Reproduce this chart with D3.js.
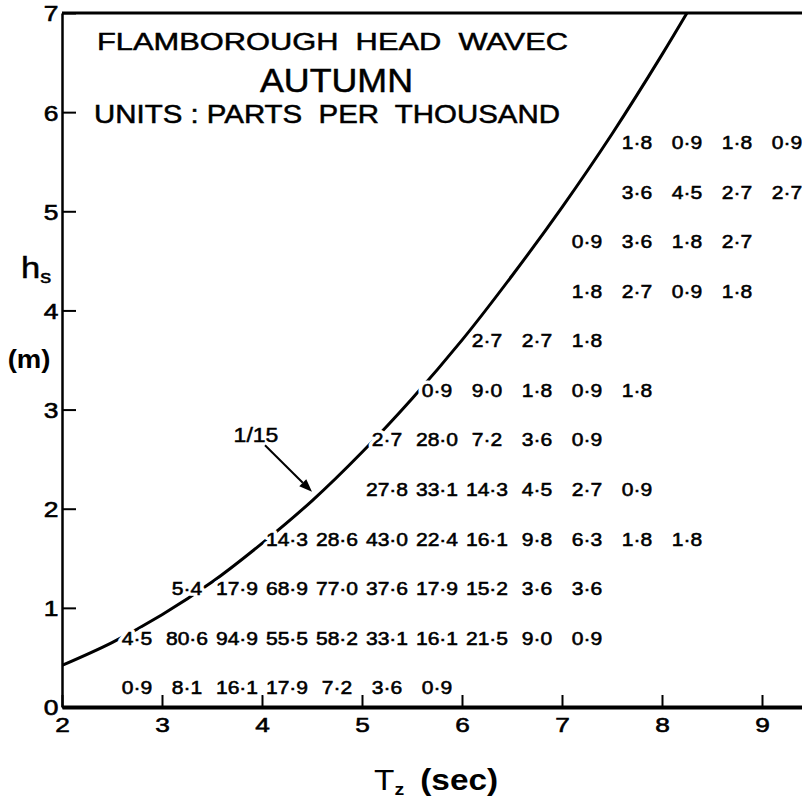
<!DOCTYPE html>
<html>
<head>
<meta charset="utf-8">
<script src="https://cdn.jsdelivr.net/npm/d3@7"></script>
<style>
  body { margin: 0; background: #fff; }
  svg text { font-family: 'Liberation Sans', Arial, sans-serif; fill: #000; }
</style>
</head>
<body>
<div id="chart"></div>
<script>
// wave height bins (m) and the Tz bin (s) of the first value in each row
const hsBins = [0.25, 0.75, 1.25, 1.75, 2.25, 2.75, 3.25, 3.75, 4.25, 4.75, 5.25, 5.75];
const rowFirstTz = [2.75, 2.75, 3.25, 4.25, 5.25, 5.25, 5.75, 6.25, 7.25, 7.25, 7.75, 7.75];
const tzStep = 0.5;
// occurrence, parts per thousand
const rowValues = [
  [0.9, 8.1, 16.1, 17.9, 7.2, 3.6, 0.9],
  [4.5, 80.6, 94.9, 55.5, 58.2, 33.1, 16.1, 21.5, 9.0, 0.9],
  [5.4, 17.9, 68.9, 77.0, 37.6, 17.9, 15.2, 3.6, 3.6],
  [14.3, 28.6, 43.0, 22.4, 16.1, 9.8, 6.3, 1.8, 1.8],
  [27.8, 33.1, 14.3, 4.5, 2.7, 0.9],
  [2.7, 28.0, 7.2, 3.6, 0.9],
  [0.9, 9.0, 1.8, 0.9, 1.8],
  [2.7, 2.7, 1.8],
  [1.8, 2.7, 0.9, 1.8],
  [0.9, 3.6, 1.8, 2.7],
  [3.6, 4.5, 2.7, 2.7],
  [1.8, 0.9, 1.8, 0.9],
];
// steepness 1/15 line
const curveTz = [2, 2.5, 3, 3.5, 4, 4.5, 5, 5.5, 6, 6.5, 7, 7.5, 8, 8.5];
const curveHs = [0.42, 0.65, 0.93, 1.26, 1.65, 2.08, 2.57, 3.11, 3.7, 4.35, 5.04, 5.78, 6.58, 7.43];
const xTicks = [2, 3, 4, 5, 6, 7, 8, 9];
const yTicks = [0, 1, 2, 3, 4, 5, 6, 7];

const width = 802, height = 800;
const x = d3.scaleLinear().domain([2, 9.4]).range([62, 802]);
const y = d3.scaleLinear().domain([0, 7]).range([707, 13]);
const fmt = (v) => v.toFixed(1).replace('.', '\u00b7');

const svg = d3.select('#chart').append('svg')
  .attr('width', width).attr('height', height);

svg.append('defs').append('clipPath').attr('id', 'plot')
  .append('rect').attr('x', x(2)).attr('y', y(7))
  .attr('width', width - x(2)).attr('height', y(0) - y(7));

// 1/15 curve
svg.append('path')
  .datum(curveTz.map((t, i) => [t, curveHs[i]]))
  .attr('clip-path', 'url(#plot)')
  .attr('fill', 'none').attr('stroke', '#000').attr('stroke-width', 3)
  .attr('d', d3.line().x((d) => x(d[0])).y((d) => y(d[1])).curve(d3.curveCatmullRom));

// axes
const xAxis = svg.append('g')
  .attr('transform', 'translate(0,' + y(0) + ')')
  .call(d3.axisBottom(x).tickValues(xTicks).tickSizeInner(-12).tickSizeOuter(0).tickFormat(d3.format('d')));
xAxis.select('.domain').attr('stroke-width', 4);
xAxis.selectAll('line').attr('stroke-width', 2);
xAxis.selectAll('text')
  .attr('y', 25).attr('dy', 0)
  .attr('transform', 'scale(1.25,1)')
  .attr('stroke', '#000').attr('stroke-width', 0.6)
  .style('font-size', '21px');

const yAxis = svg.append('g')
  .attr('transform', 'translate(' + x(2) + ',0)')
  .call(d3.axisLeft(y).tickValues(yTicks).tickSizeInner(-14).tickSizeOuter(0).tickFormat(d3.format('d')));
yAxis.select('.domain').attr('stroke-width', 2.5);
yAxis.selectAll('line').attr('stroke-width', 2);
yAxis.selectAll('text')
  .attr('x', -3).attr('dy', '0.36em')
  .attr('transform', 'scale(1.2,1)')
  .attr('stroke', '#000').attr('stroke-width', 0.6)
  .style('font-size', '22px');

// top frame line
svg.append('line')
  .attr('x1', x(2)).attr('x2', width).attr('y1', y(7)).attr('y2', y(7))
  .attr('stroke', '#000').attr('stroke-width', 3);

// table values
const cells = rowValues.flatMap((row, r) =>
  row.map((v, c) => ({ tz: rowFirstTz[r] + c * tzStep, hs: hsBins[r], v })));

const cellText = (g) => g.selectAll('text').data(cells).enter().append('text')
  .attr('transform', (d) => 'translate(' + x(d.tz) + ',' + (y(d.hs) + 12) + ') scale(1.17,1)')
  .attr('text-anchor', 'middle')
  .style('font-size', '18px')
  .text((d) => fmt(d.v));

svg.append('g').call(cellText)
  .selectAll('text').attr('stroke', '#fff').attr('stroke-width', 7).attr('stroke-linejoin', 'round');
svg.append('g').call(cellText)
  .selectAll('text').attr('stroke', '#000').attr('stroke-width', 0.55);

// titles
const titles = [
  { text: 'FLAMBOROUGH  HEAD  WAVEC', x0: 97, x1: 568, base: 50, size: 24 },
  { text: 'AUTUMN', x0: 260, x1: 413, base: 92, size: 33 },
  { text: 'UNITS : PARTS  PER  THOUSAND', x0: 94, x1: 560, base: 123, size: 25 },
];
svg.selectAll('.title').data(titles).enter().append('text')
  .attr('class', 'title')
  .attr('x', (d) => d.x0).attr('y', (d) => d.base)
  .attr('textLength', (d) => d.x1 - d.x0)
  .attr('lengthAdjust', 'spacingAndGlyphs')
  .attr('stroke', '#000').attr('stroke-width', 0.5)
  .style('white-space', 'pre')
  .style('font-size', (d) => d.size + 'px')
  .text((d) => d.text);

// 1/15 annotation with arrow
svg.append('text')
  .attr('transform', 'translate(' + x(3.94) + ',' + y(2.67) + ') scale(1.15,1)')
  .attr('text-anchor', 'middle')
  .style('font-size', '20px')
  .attr('stroke', '#000').attr('stroke-width', 0.5)
  .text('1/15');

const a0 = [x(4.03), y(2.64)], a1 = [x(4.5), y(2.17)];
const ang = Math.atan2(a1[1] - a0[1], a1[0] - a0[0]);
const headLen = 13, headW = 5;
const back = [a1[0] - headLen * Math.cos(ang), a1[1] - headLen * Math.sin(ang)];
svg.append('line')
  .attr('x1', a0[0]).attr('y1', a0[1]).attr('x2', back[0]).attr('y2', back[1])
  .attr('stroke', '#000').attr('stroke-width', 2);
svg.append('path')
  .attr('d', d3.line()([
    a1,
    [back[0] + headW * Math.sin(ang), back[1] - headW * Math.cos(ang)],
    [back[0] - headW * Math.sin(ang), back[1] + headW * Math.cos(ang)],
  ]) + 'Z')
  .attr('fill', '#000');

// axis titles
const hLabel = svg.append('text')
  .attr('transform', 'translate(21,278) scale(1.15,1)')
  .attr('stroke', '#000').attr('stroke-width', 0.5)
  .style('font-size', '30px');
hLabel.append('tspan').text('h');
hLabel.append('tspan').attr('dy', 5).style('font-size', '19px').text('s');

svg.append('text')
  .attr('transform', 'translate(29,368) scale(1.1,1)')
  .attr('text-anchor', 'middle')
  .style('font-size', '25px').style('font-weight', 'bold')
  .text('(m)');

const tLabel = svg.append('text')
  .attr('transform', 'translate(374,790) scale(1.15,1)')
  .style('font-size', '29px');
tLabel.append('tspan').text('T');
tLabel.append('tspan').attr('dy', 5).style('font-size', '17px').style('font-weight', 'bold').text('z');
tLabel.append('tspan').attr('dy', -5).attr('dx', 14).style('font-weight', 'bold').text('(sec)');
</script>
</body>
</html>
